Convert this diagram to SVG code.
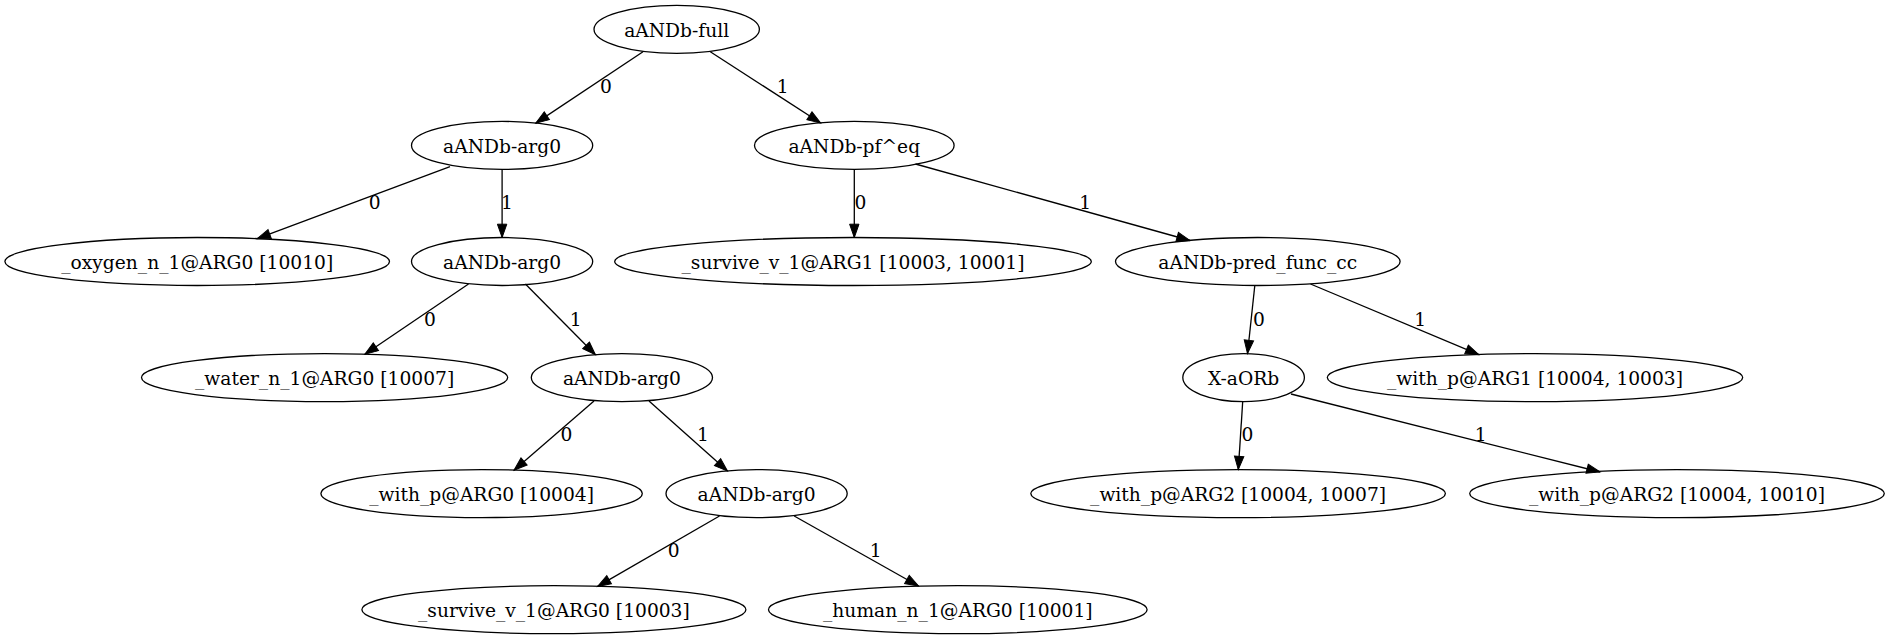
<svg xmlns="http://www.w3.org/2000/svg" width="1889" height="639" viewBox="0 0 1889 639">
<defs>
<style>
.n ellipse{fill:none;stroke:#000;stroke-width:1.3}
.n text,.lbl{font-family:"DejaVu Serif",serif;font-size:18.67px;fill:#000;text-anchor:middle}
.e line{stroke:#000;stroke-width:1.3;marker-end:url(#ah)}
</style>
<marker id="ah" markerUnits="userSpaceOnUse" markerWidth="16" markerHeight="12" viewBox="0 -6 14 12" refX="13.3" refY="0" orient="auto">
<path d="M0,-4.7 L13.3,0 L0,4.7 z" fill="#000" stroke="#000" stroke-width="1"/>
</marker>
</defs>
<rect width="1889" height="639" fill="#fff"/>
<g id="edges" class="e">
<line x1="643" y1="51.7" x2="535.8" y2="123.1"/>
<line x1="710.3" y1="51.7" x2="820.6" y2="123"/>
<line x1="450" y1="166.7" x2="257.2" y2="238.7"/>
<line x1="502.1" y1="169.4" x2="502.1" y2="237.5"/>
<line x1="854.3" y1="169.4" x2="854.3" y2="237.5"/>
<line x1="915.5" y1="164" x2="1190" y2="240.5"/>
<line x1="468.5" y1="284" x2="364.9" y2="354.2"/>
<line x1="525.4" y1="284" x2="595.4" y2="354.8"/>
<line x1="1254.8" y1="285.5" x2="1247.5" y2="353.6"/>
<line x1="1310.5" y1="284" x2="1478.8" y2="354.6"/>
<line x1="594" y1="401" x2="514" y2="470.2"/>
<line x1="649" y1="401" x2="727.5" y2="471"/>
<line x1="1242.7" y1="401.6" x2="1238.3" y2="469.6"/>
<line x1="1291" y1="394" x2="1600" y2="472"/>
<line x1="719.5" y1="516" x2="597.6" y2="586.4"/>
<line x1="794.2" y1="516" x2="918.5" y2="586"/>
</g>
<g id="edge-labels">
<text class="lbl" x="606" y="93.3">0</text>
<text class="lbl" x="782.6" y="93.3">1</text>
<text class="lbl" x="374.8" y="209">0</text>
<text class="lbl" x="507" y="209">1</text>
<text class="lbl" x="860.4" y="209">0</text>
<text class="lbl" x="1085.3" y="209">1</text>
<text class="lbl" x="430" y="326.3">0</text>
<text class="lbl" x="575.8" y="326.3">1</text>
<text class="lbl" x="1259" y="326.3">0</text>
<text class="lbl" x="1420.3" y="326.3">1</text>
<text class="lbl" x="566.4" y="440.6">0</text>
<text class="lbl" x="703" y="440.6">1</text>
<text class="lbl" x="1247.5" y="440.6">0</text>
<text class="lbl" x="1480.6" y="440.6">1</text>
<text class="lbl" x="673.6" y="556.6">0</text>
<text class="lbl" x="875.7" y="556.6">1</text>
</g>
<g id="n_full" class="n"><ellipse cx="676.7" cy="29.3" rx="82.7" ry="24"/><text x="676.7" y="36.8">aANDb-full</text></g>
<g id="n_arg0_1" class="n"><ellipse cx="502.1" cy="145.4" rx="90.6" ry="24"/><text x="502.1" y="152.9">aANDb-arg0</text></g>
<g id="n_pfeq" class="n"><ellipse cx="854.3" cy="145.4" rx="99.8" ry="24"/><text x="854.3" y="152.9">aANDb-pf^eq</text></g>
<g id="n_oxygen" class="n"><ellipse cx="197.2" cy="261.5" rx="192.3" ry="24"/><text x="197.2" y="269">_oxygen_n_1@ARG0 [10010]</text></g>
<g id="n_arg0_2" class="n"><ellipse cx="502.1" cy="261.5" rx="90.6" ry="24"/><text x="502.1" y="269">aANDb-arg0</text></g>
<g id="n_survive1" class="n"><ellipse cx="853" cy="261.5" rx="238.3" ry="24"/><text x="853" y="269">_survive_v_1@ARG1 [10003, 10001]</text></g>
<g id="n_predfunc" class="n"><ellipse cx="1257.8" cy="261.5" rx="142.3" ry="24"/><text x="1257.8" y="269">aANDb-pred_func_cc</text></g>
<g id="n_water" class="n"><ellipse cx="324.6" cy="377.6" rx="183.1" ry="24"/><text x="324.6" y="385.1">_water_n_1@ARG0 [10007]</text></g>
<g id="n_arg0_3" class="n"><ellipse cx="621.9" cy="377.6" rx="90.6" ry="24"/><text x="621.9" y="385.1">aANDb-arg0</text></g>
<g id="n_xaorb" class="n"><ellipse cx="1243.6" cy="377.6" rx="60.8" ry="24"/><text x="1243.6" y="385.1">X-aORb</text></g>
<g id="n_withArg1" class="n"><ellipse cx="1535" cy="377.6" rx="207.7" ry="24"/><text x="1535" y="385.1">_with_p@ARG1 [10004, 10003]</text></g>
<g id="n_withArg0" class="n"><ellipse cx="481.6" cy="493.6" rx="160.7" ry="24"/><text x="481.6" y="501.1">_with_p@ARG0 [10004]</text></g>
<g id="n_arg0_4" class="n"><ellipse cx="756.6" cy="493.6" rx="90.6" ry="24"/><text x="756.6" y="501.1">aANDb-arg0</text></g>
<g id="n_withArg2a" class="n"><ellipse cx="1238.1" cy="493.6" rx="207.3" ry="24"/><text x="1238.1" y="501.1">_with_p@ARG2 [10004, 10007]</text></g>
<g id="n_withArg2b" class="n"><ellipse cx="1677" cy="493.6" rx="207.3" ry="24"/><text x="1677" y="501.1">_with_p@ARG2 [10004, 10010]</text></g>
<g id="n_survive0" class="n"><ellipse cx="553.9" cy="609.7" rx="192" ry="24"/><text x="553.9" y="617.2">_survive_v_1@ARG0 [10003]</text></g>
<g id="n_human" class="n"><ellipse cx="957.8" cy="609.7" rx="189.3" ry="24"/><text x="957.8" y="617.2">_human_n_1@ARG0 [10001]</text></g>
</svg>
